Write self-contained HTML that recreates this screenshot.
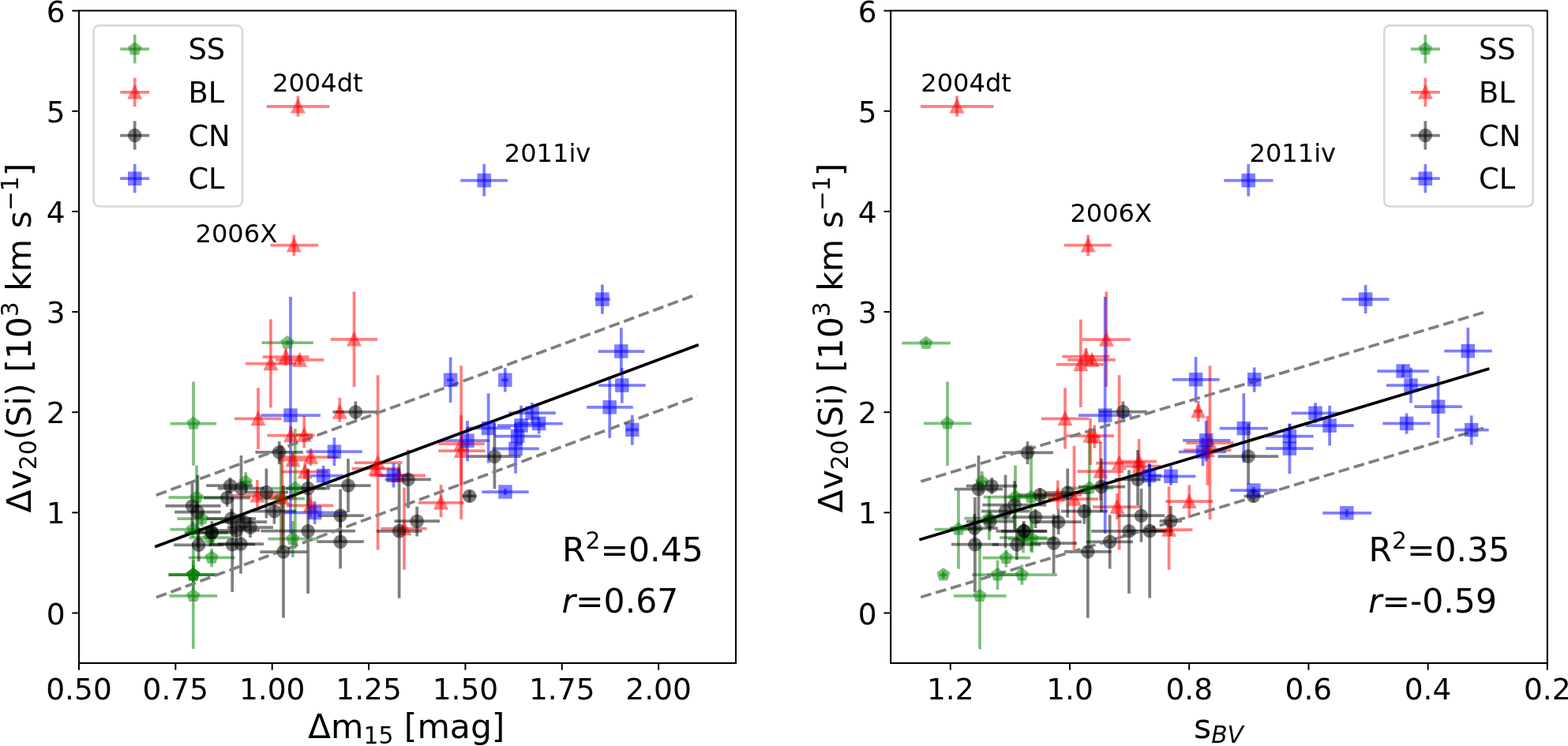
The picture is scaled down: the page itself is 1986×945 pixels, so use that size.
<!DOCTYPE html><html><head><meta charset="utf-8"><style>
html,body{margin:0;padding:0;background:#fff;overflow:hidden}
svg{display:block}
text{font-family:'DejaVu Sans', 'Liberation Sans', sans-serif;fill:#000}
.tk{font-size:37.5px}.lg{font-size:36.8px}.an{font-size:32.1px}.lb{font-size:42.5px}.st{font-size:42.5px}
</style></head><body>
<svg width="1986" height="945" viewBox="0 0 1986 945">
<rect width="1986" height="945" fill="#fff"/>
<g>
<line x1="215.5" y1="536.5" x2="274.1" y2="536.5" stroke="#008000" stroke-width="3.75" stroke-opacity="0.5"/>
<line x1="245" y1="483.5" x2="245" y2="589.7" stroke="#008000" stroke-width="3.75" stroke-opacity="0.5"/>
<line x1="331.4" y1="434.1" x2="396.8" y2="434.1" stroke="#008000" stroke-width="3.75" stroke-opacity="0.5"/>
<line x1="364" y1="431" x2="364" y2="437" stroke="#008000" stroke-width="3.75" stroke-opacity="0.5"/>
<line x1="213.5" y1="630.1" x2="284.5" y2="630.1" stroke="#008000" stroke-width="3.75" stroke-opacity="0.5"/>
<line x1="249" y1="589.7" x2="249" y2="670" stroke="#008000" stroke-width="3.75" stroke-opacity="0.5"/>
<line x1="224.3" y1="657" x2="286" y2="657" stroke="#008000" stroke-width="3.75" stroke-opacity="0.5"/>
<line x1="255.5" y1="647" x2="255.5" y2="667" stroke="#008000" stroke-width="3.75" stroke-opacity="0.5"/>
<line x1="215.3" y1="670.5" x2="273.3" y2="670.5" stroke="#008000" stroke-width="3.75" stroke-opacity="0.5"/>
<line x1="244.3" y1="660" x2="244.3" y2="681" stroke="#008000" stroke-width="3.75" stroke-opacity="0.5"/>
<line x1="239.5" y1="681" x2="291.6" y2="681" stroke="#008000" stroke-width="3.75" stroke-opacity="0.5"/>
<line x1="266" y1="670" x2="266" y2="692" stroke="#008000" stroke-width="3.75" stroke-opacity="0.5"/>
<line x1="239" y1="706.4" x2="297.5" y2="706.4" stroke="#008000" stroke-width="3.75" stroke-opacity="0.5"/>
<line x1="268.1" y1="695" x2="268.1" y2="718.3" stroke="#008000" stroke-width="3.75" stroke-opacity="0.5"/>
<line x1="213.6" y1="728.1" x2="275.1" y2="728.1" stroke="#008000" stroke-width="3.75" stroke-opacity="0.5"/>
<line x1="244.8" y1="723" x2="244.8" y2="733" stroke="#008000" stroke-width="3.75" stroke-opacity="0.5"/>
<line x1="213.6" y1="728.1" x2="275.1" y2="728.1" stroke="#008000" stroke-width="3.75" stroke-opacity="0.5"/>
<line x1="244.8" y1="709.8" x2="244.8" y2="747.1" stroke="#008000" stroke-width="3.75" stroke-opacity="0.5"/>
<line x1="213.6" y1="728.1" x2="275.1" y2="728.1" stroke="#008000" stroke-width="3.75" stroke-opacity="0.5"/>
<line x1="244.8" y1="715.4" x2="244.8" y2="740.8" stroke="#008000" stroke-width="3.75" stroke-opacity="0.5"/>
<line x1="326" y1="631.5" x2="386" y2="631.5" stroke="#008000" stroke-width="3.75" stroke-opacity="0.5"/>
<line x1="355.9" y1="563.6" x2="355.9" y2="698.5" stroke="#008000" stroke-width="3.75" stroke-opacity="0.5"/>
<line x1="214.4" y1="754.8" x2="275.1" y2="754.8" stroke="#008000" stroke-width="3.75" stroke-opacity="0.5"/>
<line x1="244.8" y1="687.6" x2="244.8" y2="822" stroke="#008000" stroke-width="3.75" stroke-opacity="0.5"/>
<line x1="305" y1="610.6" x2="318" y2="610.6" stroke="#008000" stroke-width="3.75" stroke-opacity="0.5"/>
<line x1="311.3" y1="598.1" x2="311.3" y2="623" stroke="#008000" stroke-width="3.75" stroke-opacity="0.5"/>
<line x1="343.8" y1="618.5" x2="412.2" y2="618.5" stroke="#008000" stroke-width="3.75" stroke-opacity="0.5"/>
<line x1="373.8" y1="543" x2="373.8" y2="695" stroke="#008000" stroke-width="3.75" stroke-opacity="0.5"/>
<line x1="339.4" y1="682.6" x2="402.3" y2="682.6" stroke="#008000" stroke-width="3.75" stroke-opacity="0.5"/>
<line x1="370.8" y1="660.1" x2="370.8" y2="706" stroke="#008000" stroke-width="3.75" stroke-opacity="0.5"/>
<line x1="337.7" y1="134.8" x2="417.3" y2="134.8" stroke="#ff0000" stroke-width="3.75" stroke-opacity="0.5"/>
<line x1="377.4" y1="121.5" x2="377.4" y2="147.7" stroke="#ff0000" stroke-width="3.75" stroke-opacity="0.5"/>
<line x1="342.4" y1="310.7" x2="402.8" y2="310.7" stroke="#ff0000" stroke-width="3.75" stroke-opacity="0.5"/>
<line x1="372.3" y1="297.5" x2="372.3" y2="324" stroke="#ff0000" stroke-width="3.75" stroke-opacity="0.5"/>
<line x1="297" y1="530.4" x2="356.6" y2="530.4" stroke="#ff0000" stroke-width="3.75" stroke-opacity="0.5"/>
<line x1="327" y1="491.3" x2="327" y2="569.1" stroke="#ff0000" stroke-width="3.75" stroke-opacity="0.5"/>
<line x1="311" y1="460.5" x2="375" y2="460.5" stroke="#ff0000" stroke-width="3.75" stroke-opacity="0.5"/>
<line x1="342.9" y1="404.4" x2="342.9" y2="516.5" stroke="#ff0000" stroke-width="3.75" stroke-opacity="0.5"/>
<line x1="332.7" y1="452" x2="391.5" y2="452" stroke="#ff0000" stroke-width="3.75" stroke-opacity="0.5"/>
<line x1="362" y1="441" x2="362" y2="463" stroke="#ff0000" stroke-width="3.75" stroke-opacity="0.5"/>
<line x1="349.2" y1="455.9" x2="410" y2="455.9" stroke="#ff0000" stroke-width="3.75" stroke-opacity="0.5"/>
<line x1="379.5" y1="450" x2="379.5" y2="462" stroke="#ff0000" stroke-width="3.75" stroke-opacity="0.5"/>
<line x1="418.6" y1="429.8" x2="477.9" y2="429.8" stroke="#ff0000" stroke-width="3.75" stroke-opacity="0.5"/>
<line x1="448.5" y1="369.5" x2="448.5" y2="490.2" stroke="#ff0000" stroke-width="3.75" stroke-opacity="0.5"/>
<line x1="425" y1="521.9" x2="436" y2="521.9" stroke="#ff0000" stroke-width="3.75" stroke-opacity="0.5"/>
<line x1="430.3" y1="503.9" x2="430.3" y2="534.6" stroke="#ff0000" stroke-width="3.75" stroke-opacity="0.5"/>
<line x1="338.5" y1="551.6" x2="398.4" y2="551.6" stroke="#ff0000" stroke-width="3.75" stroke-opacity="0.5"/>
<line x1="368.4" y1="540" x2="368.4" y2="563" stroke="#ff0000" stroke-width="3.75" stroke-opacity="0.5"/>
<line x1="375" y1="550.9" x2="396" y2="550.9" stroke="#ff0000" stroke-width="3.75" stroke-opacity="0.5"/>
<line x1="385.3" y1="526.8" x2="385.3" y2="567.4" stroke="#ff0000" stroke-width="3.75" stroke-opacity="0.5"/>
<line x1="359" y1="579.1" x2="428" y2="579.1" stroke="#ff0000" stroke-width="3.75" stroke-opacity="0.5"/>
<line x1="393.6" y1="568" x2="393.6" y2="590" stroke="#ff0000" stroke-width="3.75" stroke-opacity="0.5"/>
<line x1="352" y1="582.6" x2="390" y2="582.6" stroke="#ff0000" stroke-width="3.75" stroke-opacity="0.5"/>
<line x1="370.9" y1="574" x2="370.9" y2="591" stroke="#ff0000" stroke-width="3.75" stroke-opacity="0.5"/>
<line x1="356.4" y1="597.5" x2="415.6" y2="597.5" stroke="#ff0000" stroke-width="3.75" stroke-opacity="0.5"/>
<line x1="386.1" y1="588" x2="386.1" y2="607" stroke="#ff0000" stroke-width="3.75" stroke-opacity="0.5"/>
<line x1="296" y1="627.8" x2="357" y2="627.8" stroke="#ff0000" stroke-width="3.75" stroke-opacity="0.5"/>
<line x1="325.9" y1="608" x2="325.9" y2="642.2" stroke="#ff0000" stroke-width="3.75" stroke-opacity="0.5"/>
<line x1="340" y1="630.5" x2="375" y2="630.5" stroke="#ff0000" stroke-width="3.75" stroke-opacity="0.5"/>
<line x1="357.5" y1="564.7" x2="357.5" y2="696" stroke="#ff0000" stroke-width="3.75" stroke-opacity="0.5"/>
<line x1="362.7" y1="640.4" x2="422.1" y2="640.4" stroke="#ff0000" stroke-width="3.75" stroke-opacity="0.5"/>
<line x1="393.3" y1="625" x2="393.3" y2="656" stroke="#ff0000" stroke-width="3.75" stroke-opacity="0.5"/>
<line x1="448.9" y1="586.1" x2="509.6" y2="586.1" stroke="#ff0000" stroke-width="3.75" stroke-opacity="0.5"/>
<line x1="478.6" y1="475.3" x2="478.6" y2="696.5" stroke="#ff0000" stroke-width="3.75" stroke-opacity="0.5"/>
<line x1="445.4" y1="593.7" x2="507" y2="593.7" stroke="#ff0000" stroke-width="3.75" stroke-opacity="0.5"/>
<line x1="476" y1="585" x2="476" y2="602" stroke="#ff0000" stroke-width="3.75" stroke-opacity="0.5"/>
<line x1="468.8" y1="602.3" x2="538.9" y2="602.3" stroke="#ff0000" stroke-width="3.75" stroke-opacity="0.5"/>
<line x1="504.7" y1="595" x2="504.7" y2="610" stroke="#ff0000" stroke-width="3.75" stroke-opacity="0.5"/>
<line x1="482.3" y1="669.6" x2="540.7" y2="669.6" stroke="#ff0000" stroke-width="3.75" stroke-opacity="0.5"/>
<line x1="512" y1="617.5" x2="512" y2="721.7" stroke="#ff0000" stroke-width="3.75" stroke-opacity="0.5"/>
<line x1="529.9" y1="636.8" x2="587.5" y2="636.8" stroke="#ff0000" stroke-width="3.75" stroke-opacity="0.5"/>
<line x1="558.5" y1="614" x2="558.5" y2="655.2" stroke="#ff0000" stroke-width="3.75" stroke-opacity="0.5"/>
<line x1="555.3" y1="562.2" x2="613.7" y2="562.2" stroke="#ff0000" stroke-width="3.75" stroke-opacity="0.5"/>
<line x1="584.1" y1="463.3" x2="584.1" y2="658" stroke="#ff0000" stroke-width="3.75" stroke-opacity="0.5"/>
<line x1="555.3" y1="571.2" x2="614.6" y2="571.2" stroke="#ff0000" stroke-width="3.75" stroke-opacity="0.5"/>
<line x1="584.1" y1="526" x2="584.1" y2="615" stroke="#ff0000" stroke-width="3.75" stroke-opacity="0.5"/>
<line x1="421.4" y1="521.9" x2="477.9" y2="521.9" stroke="#000000" stroke-width="3.75" stroke-opacity="0.5"/>
<line x1="450.4" y1="508.5" x2="450.4" y2="535" stroke="#000000" stroke-width="3.75" stroke-opacity="0.5"/>
<line x1="323.4" y1="572.9" x2="383.9" y2="572.9" stroke="#000000" stroke-width="3.75" stroke-opacity="0.5"/>
<line x1="353.7" y1="559.2" x2="353.7" y2="588.1" stroke="#000000" stroke-width="3.75" stroke-opacity="0.5"/>
<line x1="413.1" y1="615" x2="469.7" y2="615" stroke="#000000" stroke-width="3.75" stroke-opacity="0.5"/>
<line x1="441" y1="581" x2="441" y2="649" stroke="#000000" stroke-width="3.75" stroke-opacity="0.5"/>
<line x1="362" y1="618.5" x2="418" y2="618.5" stroke="#000000" stroke-width="3.75" stroke-opacity="0.5"/>
<line x1="390.1" y1="593.6" x2="390.1" y2="640" stroke="#000000" stroke-width="3.75" stroke-opacity="0.5"/>
<line x1="310" y1="623.5" x2="365" y2="623.5" stroke="#000000" stroke-width="3.75" stroke-opacity="0.5"/>
<line x1="337.4" y1="593.6" x2="337.4" y2="656.5" stroke="#000000" stroke-width="3.75" stroke-opacity="0.5"/>
<line x1="276" y1="618.5" x2="335" y2="618.5" stroke="#000000" stroke-width="3.75" stroke-opacity="0.5"/>
<line x1="305.5" y1="577" x2="305.5" y2="660" stroke="#000000" stroke-width="3.75" stroke-opacity="0.5"/>
<line x1="261.2" y1="615.2" x2="320" y2="615.2" stroke="#000000" stroke-width="3.75" stroke-opacity="0.5"/>
<line x1="291.5" y1="605" x2="291.5" y2="625" stroke="#000000" stroke-width="3.75" stroke-opacity="0.5"/>
<line x1="258" y1="630.5" x2="317" y2="630.5" stroke="#000000" stroke-width="3.75" stroke-opacity="0.5"/>
<line x1="287.7" y1="622" x2="287.7" y2="641.8" stroke="#000000" stroke-width="3.75" stroke-opacity="0.5"/>
<line x1="209.5" y1="640.9" x2="279.6" y2="640.9" stroke="#000000" stroke-width="3.75" stroke-opacity="0.5"/>
<line x1="243.5" y1="609.4" x2="243.5" y2="672.4" stroke="#000000" stroke-width="3.75" stroke-opacity="0.5"/>
<line x1="221.1" y1="648.6" x2="279.6" y2="648.6" stroke="#000000" stroke-width="3.75" stroke-opacity="0.5"/>
<line x1="250.4" y1="601.7" x2="250.4" y2="694.5" stroke="#000000" stroke-width="3.75" stroke-opacity="0.5"/>
<line x1="233.8" y1="674.5" x2="289.1" y2="674.5" stroke="#000000" stroke-width="3.75" stroke-opacity="0.5"/>
<line x1="268.3" y1="660" x2="268.3" y2="690" stroke="#000000" stroke-width="3.75" stroke-opacity="0.5"/>
<line x1="240" y1="674.5" x2="300" y2="674.5" stroke="#000000" stroke-width="3.75" stroke-opacity="0.5"/>
<line x1="268.3" y1="664" x2="268.3" y2="686" stroke="#000000" stroke-width="3.75" stroke-opacity="0.5"/>
<line x1="220.2" y1="690.3" x2="283" y2="690.3" stroke="#000000" stroke-width="3.75" stroke-opacity="0.5"/>
<line x1="251.6" y1="669" x2="251.6" y2="711.3" stroke="#000000" stroke-width="3.75" stroke-opacity="0.5"/>
<line x1="262" y1="657" x2="324" y2="657" stroke="#000000" stroke-width="3.75" stroke-opacity="0.5"/>
<line x1="293" y1="645" x2="293" y2="669" stroke="#000000" stroke-width="3.75" stroke-opacity="0.5"/>
<line x1="270" y1="671.9" x2="329" y2="671.9" stroke="#000000" stroke-width="3.75" stroke-opacity="0.5"/>
<line x1="299.3" y1="660" x2="299.3" y2="684" stroke="#000000" stroke-width="3.75" stroke-opacity="0.5"/>
<line x1="288" y1="668.1" x2="346" y2="668.1" stroke="#000000" stroke-width="3.75" stroke-opacity="0.5"/>
<line x1="317" y1="655" x2="317" y2="681" stroke="#000000" stroke-width="3.75" stroke-opacity="0.5"/>
<line x1="280" y1="661" x2="338" y2="661" stroke="#000000" stroke-width="3.75" stroke-opacity="0.5"/>
<line x1="308.8" y1="650" x2="308.8" y2="672" stroke="#000000" stroke-width="3.75" stroke-opacity="0.5"/>
<line x1="265" y1="689.7" x2="323" y2="689.7" stroke="#000000" stroke-width="3.75" stroke-opacity="0.5"/>
<line x1="294.2" y1="630" x2="294.2" y2="749.9" stroke="#000000" stroke-width="3.75" stroke-opacity="0.5"/>
<line x1="276" y1="689.1" x2="334" y2="689.1" stroke="#000000" stroke-width="3.75" stroke-opacity="0.5"/>
<line x1="305" y1="651.5" x2="305" y2="726.6" stroke="#000000" stroke-width="3.75" stroke-opacity="0.5"/>
<line x1="320" y1="647.6" x2="375" y2="647.6" stroke="#000000" stroke-width="3.75" stroke-opacity="0.5"/>
<line x1="347.4" y1="638.6" x2="347.4" y2="663.7" stroke="#000000" stroke-width="3.75" stroke-opacity="0.5"/>
<line x1="402.3" y1="653" x2="460.8" y2="653" stroke="#000000" stroke-width="3.75" stroke-opacity="0.5"/>
<line x1="431.1" y1="619.7" x2="431.1" y2="686" stroke="#000000" stroke-width="3.75" stroke-opacity="0.5"/>
<line x1="401.4" y1="686.2" x2="460.8" y2="686.2" stroke="#000000" stroke-width="3.75" stroke-opacity="0.5"/>
<line x1="431.1" y1="652" x2="431.1" y2="720.3" stroke="#000000" stroke-width="3.75" stroke-opacity="0.5"/>
<line x1="330.4" y1="672.7" x2="450" y2="672.7" stroke="#000000" stroke-width="3.75" stroke-opacity="0.5"/>
<line x1="390.1" y1="595.4" x2="390.1" y2="751.9" stroke="#000000" stroke-width="3.75" stroke-opacity="0.5"/>
<line x1="329.3" y1="699" x2="389.1" y2="699" stroke="#000000" stroke-width="3.75" stroke-opacity="0.5"/>
<line x1="359" y1="615" x2="359" y2="782.7" stroke="#000000" stroke-width="3.75" stroke-opacity="0.5"/>
<line x1="487.7" y1="607.3" x2="546.1" y2="607.3" stroke="#000000" stroke-width="3.75" stroke-opacity="0.5"/>
<line x1="517" y1="569.9" x2="517" y2="643.7" stroke="#000000" stroke-width="3.75" stroke-opacity="0.5"/>
<line x1="476.9" y1="672.8" x2="534.4" y2="672.8" stroke="#000000" stroke-width="3.75" stroke-opacity="0.5"/>
<line x1="505.6" y1="588" x2="505.6" y2="757.7" stroke="#000000" stroke-width="3.75" stroke-opacity="0.5"/>
<line x1="499.4" y1="660.2" x2="556.9" y2="660.2" stroke="#000000" stroke-width="3.75" stroke-opacity="0.5"/>
<line x1="528.1" y1="641.7" x2="528.1" y2="679.5" stroke="#000000" stroke-width="3.75" stroke-opacity="0.5"/>
<line x1="585.7" y1="628.4" x2="603.7" y2="628.4" stroke="#000000" stroke-width="3.75" stroke-opacity="0.5"/>
<line x1="594.7" y1="621" x2="594.7" y2="636" stroke="#000000" stroke-width="3.75" stroke-opacity="0.5"/>
<line x1="592.5" y1="578.2" x2="659.6" y2="578.2" stroke="#000000" stroke-width="3.75" stroke-opacity="0.5"/>
<line x1="626.4" y1="535.8" x2="626.4" y2="619.4" stroke="#000000" stroke-width="3.75" stroke-opacity="0.5"/>
<line x1="583.3" y1="228.5" x2="642.9" y2="228.5" stroke="#0000ff" stroke-width="3.75" stroke-opacity="0.5"/>
<line x1="613.2" y1="207.9" x2="613.2" y2="248.6" stroke="#0000ff" stroke-width="3.75" stroke-opacity="0.5"/>
<line x1="753.6" y1="379.1" x2="772.6" y2="379.1" stroke="#0000ff" stroke-width="3.75" stroke-opacity="0.5"/>
<line x1="762.9" y1="360.5" x2="762.9" y2="397.7" stroke="#0000ff" stroke-width="3.75" stroke-opacity="0.5"/>
<line x1="757.7" y1="445" x2="816.4" y2="445" stroke="#0000ff" stroke-width="3.75" stroke-opacity="0.5"/>
<line x1="786.8" y1="415.2" x2="786.8" y2="474.8" stroke="#0000ff" stroke-width="3.75" stroke-opacity="0.5"/>
<line x1="758.2" y1="488.1" x2="817.6" y2="488.1" stroke="#0000ff" stroke-width="3.75" stroke-opacity="0.5"/>
<line x1="787.8" y1="466.4" x2="787.8" y2="510.7" stroke="#0000ff" stroke-width="3.75" stroke-opacity="0.5"/>
<line x1="743.1" y1="515.8" x2="801.7" y2="515.8" stroke="#0000ff" stroke-width="3.75" stroke-opacity="0.5"/>
<line x1="772.2" y1="476.9" x2="772.2" y2="554.9" stroke="#0000ff" stroke-width="3.75" stroke-opacity="0.5"/>
<line x1="792.8" y1="544.4" x2="808.8" y2="544.4" stroke="#0000ff" stroke-width="3.75" stroke-opacity="0.5"/>
<line x1="800.8" y1="525.8" x2="800.8" y2="563.7" stroke="#0000ff" stroke-width="3.75" stroke-opacity="0.5"/>
<line x1="566" y1="481.3" x2="575" y2="481.3" stroke="#0000ff" stroke-width="3.75" stroke-opacity="0.5"/>
<line x1="570.6" y1="452.5" x2="570.6" y2="510" stroke="#0000ff" stroke-width="3.75" stroke-opacity="0.5"/>
<line x1="635" y1="481.3" x2="644" y2="481.3" stroke="#0000ff" stroke-width="3.75" stroke-opacity="0.5"/>
<line x1="639.8" y1="466" x2="639.8" y2="496.5" stroke="#0000ff" stroke-width="3.75" stroke-opacity="0.5"/>
<line x1="330.4" y1="526.1" x2="405.9" y2="526.1" stroke="#0000ff" stroke-width="3.75" stroke-opacity="0.5"/>
<line x1="368" y1="375.9" x2="368" y2="676" stroke="#0000ff" stroke-width="3.75" stroke-opacity="0.5"/>
<line x1="388" y1="572.2" x2="458.8" y2="572.2" stroke="#0000ff" stroke-width="3.75" stroke-opacity="0.5"/>
<line x1="423.4" y1="554.4" x2="423.4" y2="590.1" stroke="#0000ff" stroke-width="3.75" stroke-opacity="0.5"/>
<line x1="393.3" y1="602.6" x2="434.7" y2="602.6" stroke="#0000ff" stroke-width="3.75" stroke-opacity="0.5"/>
<line x1="409.6" y1="590" x2="409.6" y2="615" stroke="#0000ff" stroke-width="3.75" stroke-opacity="0.5"/>
<line x1="359.1" y1="649.4" x2="439.2" y2="649.4" stroke="#0000ff" stroke-width="3.75" stroke-opacity="0.5"/>
<line x1="398.7" y1="635" x2="398.7" y2="664" stroke="#0000ff" stroke-width="3.75" stroke-opacity="0.5"/>
<line x1="480" y1="602.3" x2="517" y2="602.3" stroke="#0000ff" stroke-width="3.75" stroke-opacity="0.5"/>
<line x1="498.5" y1="587" x2="498.5" y2="617.6" stroke="#0000ff" stroke-width="3.75" stroke-opacity="0.5"/>
<line x1="558.7" y1="558.2" x2="619.9" y2="558.2" stroke="#0000ff" stroke-width="3.75" stroke-opacity="0.5"/>
<line x1="592" y1="533" x2="592" y2="584.3" stroke="#0000ff" stroke-width="3.75" stroke-opacity="0.5"/>
<line x1="590.4" y1="542.4" x2="646.8" y2="542.4" stroke="#0000ff" stroke-width="3.75" stroke-opacity="0.5"/>
<line x1="618.6" y1="498.3" x2="618.6" y2="586.5" stroke="#0000ff" stroke-width="3.75" stroke-opacity="0.5"/>
<line x1="644.3" y1="523.2" x2="703.8" y2="523.2" stroke="#0000ff" stroke-width="3.75" stroke-opacity="0.5"/>
<line x1="674" y1="510" x2="674" y2="536" stroke="#0000ff" stroke-width="3.75" stroke-opacity="0.5"/>
<line x1="630" y1="539" x2="690" y2="539" stroke="#0000ff" stroke-width="3.75" stroke-opacity="0.5"/>
<line x1="660" y1="513.8" x2="660" y2="564" stroke="#0000ff" stroke-width="3.75" stroke-opacity="0.5"/>
<line x1="652" y1="536.5" x2="712.9" y2="536.5" stroke="#0000ff" stroke-width="3.75" stroke-opacity="0.5"/>
<line x1="682.6" y1="528.6" x2="682.6" y2="549.5" stroke="#0000ff" stroke-width="3.75" stroke-opacity="0.5"/>
<line x1="626.7" y1="552.5" x2="684.8" y2="552.5" stroke="#0000ff" stroke-width="3.75" stroke-opacity="0.5"/>
<line x1="655.6" y1="540" x2="655.6" y2="565" stroke="#0000ff" stroke-width="3.75" stroke-opacity="0.5"/>
<line x1="623.3" y1="568.4" x2="682.9" y2="568.4" stroke="#0000ff" stroke-width="3.75" stroke-opacity="0.5"/>
<line x1="653" y1="536.6" x2="653" y2="599.6" stroke="#0000ff" stroke-width="3.75" stroke-opacity="0.5"/>
<line x1="610.3" y1="623" x2="669.7" y2="623" stroke="#0000ff" stroke-width="3.75" stroke-opacity="0.5"/>
<line x1="640" y1="619" x2="640" y2="627" stroke="#0000ff" stroke-width="3.75" stroke-opacity="0.5"/>
<line x1="197.9" y1="627.2" x2="883" y2="372.7" stroke="#808080" stroke-width="3.75" stroke-dasharray="13.79 5.955"/>
<line x1="197.9" y1="756.8" x2="883" y2="502.3" stroke="#808080" stroke-width="3.75" stroke-dasharray="13.79 5.955"/>
<line x1="197.9" y1="692" x2="883" y2="437.5" stroke="#000" stroke-width="3.75" stroke-linecap="square"/>
<path d="M245,529 L237.87,534.18 L240.59,542.57 L249.41,542.57 L252.13,534.18 Z" fill="#008000" stroke="#008000" stroke-width="2.5" opacity="0.5"/>
<path d="M364,426.6 L356.87,431.78 L359.59,440.17 L368.41,440.17 L371.13,431.78 Z" fill="#008000" stroke="#008000" stroke-width="2.5" opacity="0.5"/>
<path d="M249,622.6 L241.87,627.78 L244.59,636.17 L253.41,636.17 L256.13,627.78 Z" fill="#008000" stroke="#008000" stroke-width="2.5" opacity="0.5"/>
<path d="M255.5,649.5 L248.37,654.68 L251.09,663.07 L259.91,663.07 L262.63,654.68 Z" fill="#008000" stroke="#008000" stroke-width="2.5" opacity="0.5"/>
<path d="M244.3,663 L237.17,668.18 L239.89,676.57 L248.71,676.57 L251.43,668.18 Z" fill="#008000" stroke="#008000" stroke-width="2.5" opacity="0.5"/>
<path d="M266,673.5 L258.87,678.68 L261.59,687.07 L270.41,687.07 L273.13,678.68 Z" fill="#008000" stroke="#008000" stroke-width="2.5" opacity="0.5"/>
<path d="M268.1,698.9 L260.97,704.08 L263.69,712.47 L272.51,712.47 L275.23,704.08 Z" fill="#008000" stroke="#008000" stroke-width="2.5" opacity="0.5"/>
<path d="M244.8,720.6 L237.67,725.78 L240.39,734.17 L249.21,734.17 L251.93,725.78 Z" fill="#008000" stroke="#008000" stroke-width="2.5" opacity="0.5"/>
<path d="M244.8,720.6 L237.67,725.78 L240.39,734.17 L249.21,734.17 L251.93,725.78 Z" fill="#008000" stroke="#008000" stroke-width="2.5" opacity="0.5"/>
<path d="M244.8,720.6 L237.67,725.78 L240.39,734.17 L249.21,734.17 L251.93,725.78 Z" fill="#008000" stroke="#008000" stroke-width="2.5" opacity="0.5"/>
<path d="M355.9,624 L348.77,629.18 L351.49,637.57 L360.31,637.57 L363.03,629.18 Z" fill="#008000" stroke="#008000" stroke-width="2.5" opacity="0.5"/>
<path d="M244.8,747.3 L237.67,752.48 L240.39,760.87 L249.21,760.87 L251.93,752.48 Z" fill="#008000" stroke="#008000" stroke-width="2.5" opacity="0.5"/>
<path d="M311.3,603.1 L304.17,608.28 L306.89,616.67 L315.71,616.67 L318.43,608.28 Z" fill="#008000" stroke="#008000" stroke-width="2.5" opacity="0.5"/>
<path d="M373.8,611 L366.67,616.18 L369.39,624.57 L378.21,624.57 L380.93,616.18 Z" fill="#008000" stroke="#008000" stroke-width="2.5" opacity="0.5"/>
<path d="M370.8,675.1 L363.67,680.28 L366.39,688.67 L375.21,688.67 L377.93,680.28 Z" fill="#008000" stroke="#008000" stroke-width="2.5" opacity="0.5"/>
<path d="M377.4,127.3 L369.9,142.3 L384.9,142.3 Z" fill="#ff0000" stroke="#ff0000" stroke-width="2.5" opacity="0.5"/>
<path d="M372.3,303.2 L364.8,318.2 L379.8,318.2 Z" fill="#ff0000" stroke="#ff0000" stroke-width="2.5" opacity="0.5"/>
<path d="M327,522.9 L319.5,537.9 L334.5,537.9 Z" fill="#ff0000" stroke="#ff0000" stroke-width="2.5" opacity="0.5"/>
<path d="M342.9,453 L335.4,468 L350.4,468 Z" fill="#ff0000" stroke="#ff0000" stroke-width="2.5" opacity="0.5"/>
<path d="M362,444.5 L354.5,459.5 L369.5,459.5 Z" fill="#ff0000" stroke="#ff0000" stroke-width="2.5" opacity="0.5"/>
<path d="M379.5,448.4 L372,463.4 L387,463.4 Z" fill="#ff0000" stroke="#ff0000" stroke-width="2.5" opacity="0.5"/>
<path d="M448.5,422.3 L441,437.3 L456,437.3 Z" fill="#ff0000" stroke="#ff0000" stroke-width="2.5" opacity="0.5"/>
<path d="M430.3,514.4 L422.8,529.4 L437.8,529.4 Z" fill="#ff0000" stroke="#ff0000" stroke-width="2.5" opacity="0.5"/>
<path d="M368.4,544.1 L360.9,559.1 L375.9,559.1 Z" fill="#ff0000" stroke="#ff0000" stroke-width="2.5" opacity="0.5"/>
<path d="M385.3,543.4 L377.8,558.4 L392.8,558.4 Z" fill="#ff0000" stroke="#ff0000" stroke-width="2.5" opacity="0.5"/>
<path d="M393.6,571.6 L386.1,586.6 L401.1,586.6 Z" fill="#ff0000" stroke="#ff0000" stroke-width="2.5" opacity="0.5"/>
<path d="M370.9,575.1 L363.4,590.1 L378.4,590.1 Z" fill="#ff0000" stroke="#ff0000" stroke-width="2.5" opacity="0.5"/>
<path d="M386.1,590 L378.6,605 L393.6,605 Z" fill="#ff0000" stroke="#ff0000" stroke-width="2.5" opacity="0.5"/>
<path d="M325.9,620.3 L318.4,635.3 L333.4,635.3 Z" fill="#ff0000" stroke="#ff0000" stroke-width="2.5" opacity="0.5"/>
<path d="M357.5,623 L350,638 L365,638 Z" fill="#ff0000" stroke="#ff0000" stroke-width="2.5" opacity="0.5"/>
<path d="M393.3,632.9 L385.8,647.9 L400.8,647.9 Z" fill="#ff0000" stroke="#ff0000" stroke-width="2.5" opacity="0.5"/>
<path d="M478.6,578.6 L471.1,593.6 L486.1,593.6 Z" fill="#ff0000" stroke="#ff0000" stroke-width="2.5" opacity="0.5"/>
<path d="M476,586.2 L468.5,601.2 L483.5,601.2 Z" fill="#ff0000" stroke="#ff0000" stroke-width="2.5" opacity="0.5"/>
<path d="M504.7,594.8 L497.2,609.8 L512.2,609.8 Z" fill="#ff0000" stroke="#ff0000" stroke-width="2.5" opacity="0.5"/>
<path d="M512,662.1 L504.5,677.1 L519.5,677.1 Z" fill="#ff0000" stroke="#ff0000" stroke-width="2.5" opacity="0.5"/>
<path d="M558.5,629.3 L551,644.3 L566,644.3 Z" fill="#ff0000" stroke="#ff0000" stroke-width="2.5" opacity="0.5"/>
<path d="M584.1,554.7 L576.6,569.7 L591.6,569.7 Z" fill="#ff0000" stroke="#ff0000" stroke-width="2.5" opacity="0.5"/>
<path d="M584.1,563.7 L576.6,578.7 L591.6,578.7 Z" fill="#ff0000" stroke="#ff0000" stroke-width="2.5" opacity="0.5"/>
<circle cx="450.4" cy="521.9" r="7.5" fill="#000000" stroke="#000000" stroke-width="2.5" opacity="0.5"/>
<circle cx="353.7" cy="572.9" r="7.5" fill="#000000" stroke="#000000" stroke-width="2.5" opacity="0.5"/>
<circle cx="441" cy="615" r="7.5" fill="#000000" stroke="#000000" stroke-width="2.5" opacity="0.5"/>
<circle cx="390.1" cy="618.5" r="7.5" fill="#000000" stroke="#000000" stroke-width="2.5" opacity="0.5"/>
<circle cx="337.4" cy="623.5" r="7.5" fill="#000000" stroke="#000000" stroke-width="2.5" opacity="0.5"/>
<circle cx="305.5" cy="618.5" r="7.5" fill="#000000" stroke="#000000" stroke-width="2.5" opacity="0.5"/>
<circle cx="291.5" cy="615.2" r="7.5" fill="#000000" stroke="#000000" stroke-width="2.5" opacity="0.5"/>
<circle cx="287.7" cy="630.5" r="7.5" fill="#000000" stroke="#000000" stroke-width="2.5" opacity="0.5"/>
<circle cx="243.5" cy="640.9" r="7.5" fill="#000000" stroke="#000000" stroke-width="2.5" opacity="0.5"/>
<circle cx="250.4" cy="648.6" r="7.5" fill="#000000" stroke="#000000" stroke-width="2.5" opacity="0.5"/>
<circle cx="268.3" cy="674.5" r="7.5" fill="#000000" stroke="#000000" stroke-width="2.5" opacity="0.5"/>
<circle cx="268.3" cy="674.5" r="7.5" fill="#000000" stroke="#000000" stroke-width="2.5" opacity="0.5"/>
<circle cx="251.6" cy="690.3" r="7.5" fill="#000000" stroke="#000000" stroke-width="2.5" opacity="0.5"/>
<circle cx="293" cy="657" r="7.5" fill="#000000" stroke="#000000" stroke-width="2.5" opacity="0.5"/>
<circle cx="299.3" cy="671.9" r="7.5" fill="#000000" stroke="#000000" stroke-width="2.5" opacity="0.5"/>
<circle cx="317" cy="668.1" r="7.5" fill="#000000" stroke="#000000" stroke-width="2.5" opacity="0.5"/>
<circle cx="308.8" cy="661" r="7.5" fill="#000000" stroke="#000000" stroke-width="2.5" opacity="0.5"/>
<circle cx="294.2" cy="689.7" r="7.5" fill="#000000" stroke="#000000" stroke-width="2.5" opacity="0.5"/>
<circle cx="305" cy="689.1" r="7.5" fill="#000000" stroke="#000000" stroke-width="2.5" opacity="0.5"/>
<circle cx="347.4" cy="647.6" r="7.5" fill="#000000" stroke="#000000" stroke-width="2.5" opacity="0.5"/>
<circle cx="431.1" cy="653" r="7.5" fill="#000000" stroke="#000000" stroke-width="2.5" opacity="0.5"/>
<circle cx="431.1" cy="686.2" r="7.5" fill="#000000" stroke="#000000" stroke-width="2.5" opacity="0.5"/>
<circle cx="390.1" cy="672.7" r="7.5" fill="#000000" stroke="#000000" stroke-width="2.5" opacity="0.5"/>
<circle cx="359" cy="699" r="7.5" fill="#000000" stroke="#000000" stroke-width="2.5" opacity="0.5"/>
<circle cx="517" cy="607.3" r="7.5" fill="#000000" stroke="#000000" stroke-width="2.5" opacity="0.5"/>
<circle cx="505.6" cy="672.8" r="7.5" fill="#000000" stroke="#000000" stroke-width="2.5" opacity="0.5"/>
<circle cx="528.1" cy="660.2" r="7.5" fill="#000000" stroke="#000000" stroke-width="2.5" opacity="0.5"/>
<circle cx="594.7" cy="628.4" r="7.5" fill="#000000" stroke="#000000" stroke-width="2.5" opacity="0.5"/>
<circle cx="626.4" cy="578.2" r="7.5" fill="#000000" stroke="#000000" stroke-width="2.5" opacity="0.5"/>
<rect x="605.7" y="221" width="15" height="15" fill="#0000ff" stroke="#0000ff" stroke-width="2.5" stroke-linejoin="miter" opacity="0.5"/>
<rect x="755.4" y="371.6" width="15" height="15" fill="#0000ff" stroke="#0000ff" stroke-width="2.5" stroke-linejoin="miter" opacity="0.5"/>
<rect x="779.3" y="437.5" width="15" height="15" fill="#0000ff" stroke="#0000ff" stroke-width="2.5" stroke-linejoin="miter" opacity="0.5"/>
<rect x="780.3" y="480.6" width="15" height="15" fill="#0000ff" stroke="#0000ff" stroke-width="2.5" stroke-linejoin="miter" opacity="0.5"/>
<rect x="764.7" y="508.3" width="15" height="15" fill="#0000ff" stroke="#0000ff" stroke-width="2.5" stroke-linejoin="miter" opacity="0.5"/>
<rect x="793.3" y="536.9" width="15" height="15" fill="#0000ff" stroke="#0000ff" stroke-width="2.5" stroke-linejoin="miter" opacity="0.5"/>
<rect x="563.1" y="473.8" width="15" height="15" fill="#0000ff" stroke="#0000ff" stroke-width="2.5" stroke-linejoin="miter" opacity="0.5"/>
<rect x="632.3" y="473.8" width="15" height="15" fill="#0000ff" stroke="#0000ff" stroke-width="2.5" stroke-linejoin="miter" opacity="0.5"/>
<rect x="360.5" y="518.6" width="15" height="15" fill="#0000ff" stroke="#0000ff" stroke-width="2.5" stroke-linejoin="miter" opacity="0.5"/>
<rect x="415.9" y="564.7" width="15" height="15" fill="#0000ff" stroke="#0000ff" stroke-width="2.5" stroke-linejoin="miter" opacity="0.5"/>
<rect x="402.1" y="595.1" width="15" height="15" fill="#0000ff" stroke="#0000ff" stroke-width="2.5" stroke-linejoin="miter" opacity="0.5"/>
<rect x="391.2" y="641.9" width="15" height="15" fill="#0000ff" stroke="#0000ff" stroke-width="2.5" stroke-linejoin="miter" opacity="0.5"/>
<rect x="491" y="594.8" width="15" height="15" fill="#0000ff" stroke="#0000ff" stroke-width="2.5" stroke-linejoin="miter" opacity="0.5"/>
<rect x="584.5" y="550.7" width="15" height="15" fill="#0000ff" stroke="#0000ff" stroke-width="2.5" stroke-linejoin="miter" opacity="0.5"/>
<rect x="611.1" y="534.9" width="15" height="15" fill="#0000ff" stroke="#0000ff" stroke-width="2.5" stroke-linejoin="miter" opacity="0.5"/>
<rect x="666.5" y="515.7" width="15" height="15" fill="#0000ff" stroke="#0000ff" stroke-width="2.5" stroke-linejoin="miter" opacity="0.5"/>
<rect x="652.5" y="531.5" width="15" height="15" fill="#0000ff" stroke="#0000ff" stroke-width="2.5" stroke-linejoin="miter" opacity="0.5"/>
<rect x="675.1" y="529" width="15" height="15" fill="#0000ff" stroke="#0000ff" stroke-width="2.5" stroke-linejoin="miter" opacity="0.5"/>
<rect x="648.1" y="545" width="15" height="15" fill="#0000ff" stroke="#0000ff" stroke-width="2.5" stroke-linejoin="miter" opacity="0.5"/>
<rect x="645.5" y="560.9" width="15" height="15" fill="#0000ff" stroke="#0000ff" stroke-width="2.5" stroke-linejoin="miter" opacity="0.5"/>
<rect x="632.5" y="615.5" width="15" height="15" fill="#0000ff" stroke="#0000ff" stroke-width="2.5" stroke-linejoin="miter" opacity="0.5"/>
<text x="345" y="116.2" class="an">2004dt</text>
<text x="247.5" y="307.2" class="an">2006X</text>
<text x="638.8" y="205.3" class="an">2011iv</text>
<text x="712" y="711" class="st">R<tspan dy="-16" font-size="29.75px">2</tspan><tspan dy="16">=0.45</tspan></text>
<text x="711.5" y="775.5" class="st"><tspan font-style="italic">r</tspan>=0.67</text>
<line x1="91.25" y1="776.5" x2="100" y2="776.5" stroke="#000" stroke-width="2"/>
<text x="82.5" y="790.5" text-anchor="end" class="tk">0</text>
<line x1="91.25" y1="649.35" x2="100" y2="649.35" stroke="#000" stroke-width="2"/>
<text x="82.5" y="663.35" text-anchor="end" class="tk">1</text>
<line x1="91.25" y1="522.2" x2="100" y2="522.2" stroke="#000" stroke-width="2"/>
<text x="82.5" y="536.2" text-anchor="end" class="tk">2</text>
<line x1="91.25" y1="395.05" x2="100" y2="395.05" stroke="#000" stroke-width="2"/>
<text x="82.5" y="409.05" text-anchor="end" class="tk">3</text>
<line x1="91.25" y1="267.9" x2="100" y2="267.9" stroke="#000" stroke-width="2"/>
<text x="82.5" y="281.9" text-anchor="end" class="tk">4</text>
<line x1="91.25" y1="140.75" x2="100" y2="140.75" stroke="#000" stroke-width="2"/>
<text x="82.5" y="154.75" text-anchor="end" class="tk">5</text>
<line x1="91.25" y1="13.6" x2="100" y2="13.6" stroke="#000" stroke-width="2"/>
<text x="82.5" y="27.6" text-anchor="end" class="tk">6</text>
<line x1="100" y1="840" x2="100" y2="848.75" stroke="#000" stroke-width="2"/>
<text x="100" y="886" text-anchor="middle" class="tk">0.50</text>
<line x1="222.35" y1="840" x2="222.35" y2="848.75" stroke="#000" stroke-width="2"/>
<text x="222.35" y="886" text-anchor="middle" class="tk">0.75</text>
<line x1="344.7" y1="840" x2="344.7" y2="848.75" stroke="#000" stroke-width="2"/>
<text x="344.7" y="886" text-anchor="middle" class="tk">1.00</text>
<line x1="467.05" y1="840" x2="467.05" y2="848.75" stroke="#000" stroke-width="2"/>
<text x="467.05" y="886" text-anchor="middle" class="tk">1.25</text>
<line x1="589.4" y1="840" x2="589.4" y2="848.75" stroke="#000" stroke-width="2"/>
<text x="589.4" y="886" text-anchor="middle" class="tk">1.50</text>
<line x1="711.75" y1="840" x2="711.75" y2="848.75" stroke="#000" stroke-width="2"/>
<text x="711.75" y="886" text-anchor="middle" class="tk">1.75</text>
<line x1="834.1" y1="840" x2="834.1" y2="848.75" stroke="#000" stroke-width="2"/>
<text x="834.1" y="886" text-anchor="middle" class="tk">2.00</text>
<rect x="100" y="13.5" width="832" height="826.5" fill="none" stroke="#000" stroke-width="2"/>
<rect x="118.6" y="32.3" width="188.4" height="229.2" rx="7" ry="7" fill="#fff" fill-opacity="0.8" stroke="#cccccc" stroke-opacity="0.8" stroke-width="2.5"/>
<line x1="152.2" y1="62.1" x2="189.2" y2="62.1" stroke="#008000" stroke-width="3.75" stroke-opacity="0.5"/><line x1="170.7" y1="43.9" x2="170.7" y2="80.3" stroke="#008000" stroke-width="3.75" stroke-opacity="0.5"/><path d="M170.7,54.6 L163.57,59.78 L166.29,68.17 L175.11,68.17 L177.83,59.78 Z" fill="#008000" stroke="#008000" stroke-width="2.5" opacity="0.5"/>
<text x="238.4" y="75.3" class="lg">SS</text>
<line x1="152.2" y1="116.8" x2="189.2" y2="116.8" stroke="#ff0000" stroke-width="3.75" stroke-opacity="0.5"/><line x1="170.7" y1="98.6" x2="170.7" y2="135" stroke="#ff0000" stroke-width="3.75" stroke-opacity="0.5"/><path d="M170.7,109.3 L163.2,124.3 L178.2,124.3 Z" fill="#ff0000" stroke="#ff0000" stroke-width="2.5" opacity="0.5"/>
<text x="238.4" y="130" class="lg">BL</text>
<line x1="152.2" y1="171.5" x2="189.2" y2="171.5" stroke="#000000" stroke-width="3.75" stroke-opacity="0.5"/><line x1="170.7" y1="153.3" x2="170.7" y2="189.7" stroke="#000000" stroke-width="3.75" stroke-opacity="0.5"/><circle cx="170.7" cy="171.5" r="7.5" fill="#000000" stroke="#000000" stroke-width="2.5" opacity="0.5"/>
<text x="238.4" y="184.7" class="lg">CN</text>
<line x1="152.2" y1="226.2" x2="189.2" y2="226.2" stroke="#0000ff" stroke-width="3.75" stroke-opacity="0.5"/><line x1="170.7" y1="208" x2="170.7" y2="244.4" stroke="#0000ff" stroke-width="3.75" stroke-opacity="0.5"/><rect x="163.2" y="218.7" width="15" height="15" fill="#0000ff" stroke="#0000ff" stroke-width="2.5" stroke-linejoin="miter" opacity="0.5"/>
<text x="238.4" y="239.4" class="lg">CL</text>
<text x="390" y="935" class="lb">Δm<tspan dy="6.7" font-size="29.75px">15</tspan><tspan dy="-6.7"> [mag]</tspan></text>
<text transform="translate(39,428) rotate(-90)" text-anchor="middle" class="lb">Δv<tspan dy="6.7" font-size="29.75px">20</tspan><tspan dy="-6.7">(Si) [10</tspan><tspan dy="-16.5" font-size="29.75px">3</tspan><tspan dy="16.5"> km s</tspan><tspan dy="-16.5" font-size="29.75px">−1</tspan><tspan dy="16.5">]</tspan></text>
</g>
<g>
<line x1="1169.9" y1="536.3" x2="1230.5" y2="536.3" stroke="#008000" stroke-width="3.75" stroke-opacity="0.5"/>
<line x1="1200" y1="483.7" x2="1200" y2="590" stroke="#008000" stroke-width="3.75" stroke-opacity="0.5"/>
<line x1="1142.3" y1="434.7" x2="1203.8" y2="434.7" stroke="#008000" stroke-width="3.75" stroke-opacity="0.5"/>
<line x1="1173" y1="431" x2="1173" y2="437" stroke="#008000" stroke-width="3.75" stroke-opacity="0.5"/>
<line x1="1245.7" y1="629.5" x2="1325" y2="629.5" stroke="#008000" stroke-width="3.75" stroke-opacity="0.5"/>
<line x1="1286" y1="589.7" x2="1286" y2="670" stroke="#008000" stroke-width="3.75" stroke-opacity="0.5"/>
<line x1="1221.4" y1="656.5" x2="1284" y2="656.5" stroke="#008000" stroke-width="3.75" stroke-opacity="0.5"/>
<line x1="1252.9" y1="628.6" x2="1252.9" y2="684" stroke="#008000" stroke-width="3.75" stroke-opacity="0.5"/>
<line x1="1183.8" y1="670.5" x2="1245" y2="670.5" stroke="#008000" stroke-width="3.75" stroke-opacity="0.5"/>
<line x1="1214" y1="621.3" x2="1214" y2="720.7" stroke="#008000" stroke-width="3.75" stroke-opacity="0.5"/>
<line x1="1266" y1="681" x2="1326.3" y2="681" stroke="#008000" stroke-width="3.75" stroke-opacity="0.5"/>
<line x1="1296" y1="662" x2="1296" y2="700.3" stroke="#008000" stroke-width="3.75" stroke-opacity="0.5"/>
<line x1="1244.4" y1="706.6" x2="1304.8" y2="706.6" stroke="#008000" stroke-width="3.75" stroke-opacity="0.5"/>
<line x1="1274.3" y1="696.3" x2="1274.3" y2="718.6" stroke="#008000" stroke-width="3.75" stroke-opacity="0.5"/>
<line x1="1190" y1="728.1" x2="1200" y2="728.1" stroke="#008000" stroke-width="3.75" stroke-opacity="0.5"/>
<line x1="1194.9" y1="723" x2="1194.9" y2="733" stroke="#008000" stroke-width="3.75" stroke-opacity="0.5"/>
<line x1="1231" y1="728.1" x2="1296" y2="728.1" stroke="#008000" stroke-width="3.75" stroke-opacity="0.5"/>
<line x1="1263.5" y1="709.8" x2="1263.5" y2="747.1" stroke="#008000" stroke-width="3.75" stroke-opacity="0.5"/>
<line x1="1250" y1="728.1" x2="1338.9" y2="728.1" stroke="#008000" stroke-width="3.75" stroke-opacity="0.5"/>
<line x1="1294.4" y1="715.4" x2="1294.4" y2="740.8" stroke="#008000" stroke-width="3.75" stroke-opacity="0.5"/>
<line x1="1207.9" y1="754.8" x2="1274.6" y2="754.8" stroke="#008000" stroke-width="3.75" stroke-opacity="0.5"/>
<line x1="1241" y1="687" x2="1241" y2="822.5" stroke="#008000" stroke-width="3.75" stroke-opacity="0.5"/>
<line x1="1236" y1="610.5" x2="1251" y2="610.5" stroke="#008000" stroke-width="3.75" stroke-opacity="0.5"/>
<line x1="1243.8" y1="597.1" x2="1243.8" y2="624" stroke="#008000" stroke-width="3.75" stroke-opacity="0.5"/>
<line x1="1350" y1="618.3" x2="1410" y2="618.3" stroke="#008000" stroke-width="3.75" stroke-opacity="0.5"/>
<line x1="1379.8" y1="543" x2="1379.8" y2="695" stroke="#008000" stroke-width="3.75" stroke-opacity="0.5"/>
<line x1="1276" y1="629.7" x2="1336" y2="629.7" stroke="#008000" stroke-width="3.75" stroke-opacity="0.5"/>
<line x1="1306" y1="563.6" x2="1306" y2="698.5" stroke="#008000" stroke-width="3.75" stroke-opacity="0.5"/>
<line x1="1277" y1="682.6" x2="1337" y2="682.6" stroke="#008000" stroke-width="3.75" stroke-opacity="0.5"/>
<line x1="1307.1" y1="660.1" x2="1307.1" y2="700.3" stroke="#008000" stroke-width="3.75" stroke-opacity="0.5"/>
<line x1="1165.9" y1="134.8" x2="1258.5" y2="134.8" stroke="#ff0000" stroke-width="3.75" stroke-opacity="0.5"/>
<line x1="1212" y1="121.5" x2="1212" y2="147.7" stroke="#ff0000" stroke-width="3.75" stroke-opacity="0.5"/>
<line x1="1347.7" y1="310.7" x2="1407.7" y2="310.7" stroke="#ff0000" stroke-width="3.75" stroke-opacity="0.5"/>
<line x1="1378.1" y1="297.5" x2="1378.1" y2="324" stroke="#ff0000" stroke-width="3.75" stroke-opacity="0.5"/>
<line x1="1319" y1="530.4" x2="1379" y2="530.4" stroke="#ff0000" stroke-width="3.75" stroke-opacity="0.5"/>
<line x1="1349" y1="491.4" x2="1349" y2="568.6" stroke="#ff0000" stroke-width="3.75" stroke-opacity="0.5"/>
<line x1="1337.8" y1="461.5" x2="1397.9" y2="461.5" stroke="#ff0000" stroke-width="3.75" stroke-opacity="0.5"/>
<line x1="1368.8" y1="404.7" x2="1368.8" y2="516" stroke="#ff0000" stroke-width="3.75" stroke-opacity="0.5"/>
<line x1="1345.4" y1="451.6" x2="1405.5" y2="451.6" stroke="#ff0000" stroke-width="3.75" stroke-opacity="0.5"/>
<line x1="1375.5" y1="441" x2="1375.5" y2="463" stroke="#ff0000" stroke-width="3.75" stroke-opacity="0.5"/>
<line x1="1352.2" y1="455.9" x2="1412.8" y2="455.9" stroke="#ff0000" stroke-width="3.75" stroke-opacity="0.5"/>
<line x1="1383" y1="450" x2="1383" y2="462" stroke="#ff0000" stroke-width="3.75" stroke-opacity="0.5"/>
<line x1="1370.8" y1="430" x2="1431.8" y2="430" stroke="#ff0000" stroke-width="3.75" stroke-opacity="0.5"/>
<line x1="1401.3" y1="369.5" x2="1401.3" y2="490" stroke="#ff0000" stroke-width="3.75" stroke-opacity="0.5"/>
<line x1="1512" y1="520.8" x2="1523" y2="520.8" stroke="#ff0000" stroke-width="3.75" stroke-opacity="0.5"/>
<line x1="1517.8" y1="507.7" x2="1517.8" y2="534.2" stroke="#ff0000" stroke-width="3.75" stroke-opacity="0.5"/>
<line x1="1350.5" y1="552" x2="1411" y2="552" stroke="#ff0000" stroke-width="3.75" stroke-opacity="0.5"/>
<line x1="1381" y1="530" x2="1381" y2="589" stroke="#ff0000" stroke-width="3.75" stroke-opacity="0.5"/>
<line x1="1378" y1="553" x2="1394" y2="553" stroke="#ff0000" stroke-width="3.75" stroke-opacity="0.5"/>
<line x1="1386.2" y1="538.6" x2="1386.2" y2="567.6" stroke="#ff0000" stroke-width="3.75" stroke-opacity="0.5"/>
<line x1="1420" y1="584.6" x2="1465" y2="584.6" stroke="#ff0000" stroke-width="3.75" stroke-opacity="0.5"/>
<line x1="1442.6" y1="556.1" x2="1442.6" y2="593.5" stroke="#ff0000" stroke-width="3.75" stroke-opacity="0.5"/>
<line x1="1425" y1="590.6" x2="1470" y2="590.6" stroke="#ff0000" stroke-width="3.75" stroke-opacity="0.5"/>
<line x1="1443" y1="584" x2="1443" y2="597" stroke="#ff0000" stroke-width="3.75" stroke-opacity="0.5"/>
<line x1="1364.3" y1="597" x2="1423" y2="597" stroke="#ff0000" stroke-width="3.75" stroke-opacity="0.5"/>
<line x1="1393.8" y1="560" x2="1393.8" y2="634" stroke="#ff0000" stroke-width="3.75" stroke-opacity="0.5"/>
<line x1="1310" y1="627" x2="1370" y2="627" stroke="#ff0000" stroke-width="3.75" stroke-opacity="0.5"/>
<line x1="1339.8" y1="608.6" x2="1339.8" y2="645.4" stroke="#ff0000" stroke-width="3.75" stroke-opacity="0.5"/>
<line x1="1327" y1="632" x2="1391" y2="632" stroke="#ff0000" stroke-width="3.75" stroke-opacity="0.5"/>
<line x1="1360.5" y1="564.7" x2="1360.5" y2="696" stroke="#ff0000" stroke-width="3.75" stroke-opacity="0.5"/>
<line x1="1384.1" y1="642" x2="1445.3" y2="642" stroke="#ff0000" stroke-width="3.75" stroke-opacity="0.5"/>
<line x1="1415" y1="625" x2="1415" y2="658" stroke="#ff0000" stroke-width="3.75" stroke-opacity="0.5"/>
<line x1="1388.1" y1="586.6" x2="1451" y2="586.6" stroke="#ff0000" stroke-width="3.75" stroke-opacity="0.5"/>
<line x1="1417.6" y1="475.3" x2="1417.6" y2="696.5" stroke="#ff0000" stroke-width="3.75" stroke-opacity="0.5"/>
<line x1="1459" y1="671" x2="1510.5" y2="671" stroke="#ff0000" stroke-width="3.75" stroke-opacity="0.5"/>
<line x1="1480.6" y1="616.2" x2="1480.6" y2="721.9" stroke="#ff0000" stroke-width="3.75" stroke-opacity="0.5"/>
<line x1="1476.2" y1="635.2" x2="1536.2" y2="635.2" stroke="#ff0000" stroke-width="3.75" stroke-opacity="0.5"/>
<line x1="1506.3" y1="614.3" x2="1506.3" y2="656.2" stroke="#ff0000" stroke-width="3.75" stroke-opacity="0.5"/>
<line x1="1502.3" y1="561" x2="1562.6" y2="561" stroke="#ff0000" stroke-width="3.75" stroke-opacity="0.5"/>
<line x1="1532.5" y1="463.3" x2="1532.5" y2="658" stroke="#ff0000" stroke-width="3.75" stroke-opacity="0.5"/>
<line x1="1499.2" y1="570.2" x2="1559.5" y2="570.2" stroke="#ff0000" stroke-width="3.75" stroke-opacity="0.5"/>
<line x1="1529.4" y1="526.8" x2="1529.4" y2="614.6" stroke="#ff0000" stroke-width="3.75" stroke-opacity="0.5"/>
<line x1="1392" y1="521.6" x2="1452.9" y2="521.6" stroke="#000000" stroke-width="3.75" stroke-opacity="0.5"/>
<line x1="1422.4" y1="508.5" x2="1422.4" y2="535" stroke="#000000" stroke-width="3.75" stroke-opacity="0.5"/>
<line x1="1269.5" y1="573.3" x2="1333.9" y2="573.3" stroke="#000000" stroke-width="3.75" stroke-opacity="0.5"/>
<line x1="1301.5" y1="559.2" x2="1301.5" y2="588.1" stroke="#000000" stroke-width="3.75" stroke-opacity="0.5"/>
<line x1="1366" y1="616.5" x2="1425" y2="616.5" stroke="#000000" stroke-width="3.75" stroke-opacity="0.5"/>
<line x1="1395" y1="581" x2="1395" y2="649" stroke="#000000" stroke-width="3.75" stroke-opacity="0.5"/>
<line x1="1323" y1="624.1" x2="1381" y2="624.1" stroke="#000000" stroke-width="3.75" stroke-opacity="0.5"/>
<line x1="1352.2" y1="593.5" x2="1352.2" y2="655.6" stroke="#000000" stroke-width="3.75" stroke-opacity="0.5"/>
<line x1="1208.6" y1="619.5" x2="1270" y2="619.5" stroke="#000000" stroke-width="3.75" stroke-opacity="0.5"/>
<line x1="1239.5" y1="577" x2="1239.5" y2="660" stroke="#000000" stroke-width="3.75" stroke-opacity="0.5"/>
<line x1="1223.8" y1="615.7" x2="1288.5" y2="615.7" stroke="#000000" stroke-width="3.75" stroke-opacity="0.5"/>
<line x1="1256.2" y1="605" x2="1256.2" y2="626" stroke="#000000" stroke-width="3.75" stroke-opacity="0.5"/>
<line x1="1288" y1="627" x2="1346" y2="627" stroke="#000000" stroke-width="3.75" stroke-opacity="0.5"/>
<line x1="1317.2" y1="618" x2="1317.2" y2="640" stroke="#000000" stroke-width="3.75" stroke-opacity="0.5"/>
<line x1="1244.3" y1="639.5" x2="1325" y2="639.5" stroke="#000000" stroke-width="3.75" stroke-opacity="0.5"/>
<line x1="1285" y1="609.4" x2="1285" y2="672.4" stroke="#000000" stroke-width="3.75" stroke-opacity="0.5"/>
<line x1="1243" y1="647.7" x2="1304" y2="647.7" stroke="#000000" stroke-width="3.75" stroke-opacity="0.5"/>
<line x1="1273.5" y1="601.7" x2="1273.5" y2="694.5" stroke="#000000" stroke-width="3.75" stroke-opacity="0.5"/>
<line x1="1261.5" y1="672.8" x2="1326.3" y2="672.8" stroke="#000000" stroke-width="3.75" stroke-opacity="0.5"/>
<line x1="1296.9" y1="660" x2="1296.9" y2="690" stroke="#000000" stroke-width="3.75" stroke-opacity="0.5"/>
<line x1="1268" y1="672.8" x2="1326" y2="672.8" stroke="#000000" stroke-width="3.75" stroke-opacity="0.5"/>
<line x1="1296.9" y1="664" x2="1296.9" y2="686" stroke="#000000" stroke-width="3.75" stroke-opacity="0.5"/>
<line x1="1257" y1="689.9" x2="1318" y2="689.9" stroke="#000000" stroke-width="3.75" stroke-opacity="0.5"/>
<line x1="1287.9" y1="669" x2="1287.9" y2="709.3" stroke="#000000" stroke-width="3.75" stroke-opacity="0.5"/>
<line x1="1282" y1="655" x2="1341" y2="655" stroke="#000000" stroke-width="3.75" stroke-opacity="0.5"/>
<line x1="1311.5" y1="645" x2="1311.5" y2="669" stroke="#000000" stroke-width="3.75" stroke-opacity="0.5"/>
<line x1="1203.3" y1="669" x2="1263.8" y2="669" stroke="#000000" stroke-width="3.75" stroke-opacity="0.5"/>
<line x1="1234.3" y1="651" x2="1234.3" y2="687" stroke="#000000" stroke-width="3.75" stroke-opacity="0.5"/>
<line x1="1224" y1="660.5" x2="1284" y2="660.5" stroke="#000000" stroke-width="3.75" stroke-opacity="0.5"/>
<line x1="1253.8" y1="648" x2="1253.8" y2="673" stroke="#000000" stroke-width="3.75" stroke-opacity="0.5"/>
<line x1="1311" y1="661.2" x2="1370" y2="661.2" stroke="#000000" stroke-width="3.75" stroke-opacity="0.5"/>
<line x1="1340.6" y1="645.4" x2="1340.6" y2="676.9" stroke="#000000" stroke-width="3.75" stroke-opacity="0.5"/>
<line x1="1204.9" y1="689.7" x2="1265" y2="689.7" stroke="#000000" stroke-width="3.75" stroke-opacity="0.5"/>
<line x1="1234.9" y1="630" x2="1234.9" y2="749.9" stroke="#000000" stroke-width="3.75" stroke-opacity="0.5"/>
<line x1="1305" y1="688.1" x2="1364" y2="688.1" stroke="#000000" stroke-width="3.75" stroke-opacity="0.5"/>
<line x1="1334.6" y1="651.5" x2="1334.6" y2="726.6" stroke="#000000" stroke-width="3.75" stroke-opacity="0.5"/>
<line x1="1344" y1="647.7" x2="1403" y2="647.7" stroke="#000000" stroke-width="3.75" stroke-opacity="0.5"/>
<line x1="1373.3" y1="638.6" x2="1373.3" y2="663.7" stroke="#000000" stroke-width="3.75" stroke-opacity="0.5"/>
<line x1="1415.6" y1="653.2" x2="1475.2" y2="653.2" stroke="#000000" stroke-width="3.75" stroke-opacity="0.5"/>
<line x1="1445.5" y1="619" x2="1445.5" y2="686.7" stroke="#000000" stroke-width="3.75" stroke-opacity="0.5"/>
<line x1="1376" y1="686.3" x2="1435" y2="686.3" stroke="#000000" stroke-width="3.75" stroke-opacity="0.5"/>
<line x1="1405.7" y1="652.2" x2="1405.7" y2="720.5" stroke="#000000" stroke-width="3.75" stroke-opacity="0.5"/>
<line x1="1382.3" y1="672.8" x2="1477" y2="672.8" stroke="#000000" stroke-width="3.75" stroke-opacity="0.5"/>
<line x1="1430" y1="595.4" x2="1430" y2="751.9" stroke="#000000" stroke-width="3.75" stroke-opacity="0.5"/>
<line x1="1348.1" y1="698.9" x2="1407.5" y2="698.9" stroke="#000000" stroke-width="3.75" stroke-opacity="0.5"/>
<line x1="1377.8" y1="615" x2="1377.8" y2="782.7" stroke="#000000" stroke-width="3.75" stroke-opacity="0.5"/>
<line x1="1412" y1="607.3" x2="1470" y2="607.3" stroke="#000000" stroke-width="3.75" stroke-opacity="0.5"/>
<line x1="1441.1" y1="570.1" x2="1441.1" y2="640.3" stroke="#000000" stroke-width="3.75" stroke-opacity="0.5"/>
<line x1="1427" y1="672.6" x2="1485" y2="672.6" stroke="#000000" stroke-width="3.75" stroke-opacity="0.5"/>
<line x1="1456.2" y1="588" x2="1456.2" y2="757.4" stroke="#000000" stroke-width="3.75" stroke-opacity="0.5"/>
<line x1="1468.6" y1="660" x2="1497.1" y2="660" stroke="#000000" stroke-width="3.75" stroke-opacity="0.5"/>
<line x1="1482.9" y1="641" x2="1482.9" y2="679" stroke="#000000" stroke-width="3.75" stroke-opacity="0.5"/>
<line x1="1575.6" y1="628.6" x2="1601" y2="628.6" stroke="#000000" stroke-width="3.75" stroke-opacity="0.5"/>
<line x1="1587.6" y1="621" x2="1587.6" y2="636" stroke="#000000" stroke-width="3.75" stroke-opacity="0.5"/>
<line x1="1542.5" y1="578" x2="1619.2" y2="578" stroke="#000000" stroke-width="3.75" stroke-opacity="0.5"/>
<line x1="1581.1" y1="536.3" x2="1581.1" y2="613.5" stroke="#000000" stroke-width="3.75" stroke-opacity="0.5"/>
<line x1="1550.3" y1="228.5" x2="1612.5" y2="228.5" stroke="#0000ff" stroke-width="3.75" stroke-opacity="0.5"/>
<line x1="1581.2" y1="207.9" x2="1581.2" y2="248.6" stroke="#0000ff" stroke-width="3.75" stroke-opacity="0.5"/>
<line x1="1699.4" y1="379.1" x2="1759.4" y2="379.1" stroke="#0000ff" stroke-width="3.75" stroke-opacity="0.5"/>
<line x1="1729.6" y1="361" x2="1729.6" y2="397" stroke="#0000ff" stroke-width="3.75" stroke-opacity="0.5"/>
<line x1="1829.2" y1="444.7" x2="1889.8" y2="444.7" stroke="#0000ff" stroke-width="3.75" stroke-opacity="0.5"/>
<line x1="1859.3" y1="415" x2="1859.3" y2="472.7" stroke="#0000ff" stroke-width="3.75" stroke-opacity="0.5"/>
<line x1="1755.9" y1="488.1" x2="1818" y2="488.1" stroke="#0000ff" stroke-width="3.75" stroke-opacity="0.5"/>
<line x1="1787" y1="465.7" x2="1787" y2="510.5" stroke="#0000ff" stroke-width="3.75" stroke-opacity="0.5"/>
<line x1="1791.3" y1="515.2" x2="1851.8" y2="515.2" stroke="#0000ff" stroke-width="3.75" stroke-opacity="0.5"/>
<line x1="1821.6" y1="476.2" x2="1821.6" y2="554.6" stroke="#0000ff" stroke-width="3.75" stroke-opacity="0.5"/>
<line x1="1842.3" y1="544.6" x2="1885.7" y2="544.6" stroke="#0000ff" stroke-width="3.75" stroke-opacity="0.5"/>
<line x1="1863.7" y1="526.3" x2="1863.7" y2="563.5" stroke="#0000ff" stroke-width="3.75" stroke-opacity="0.5"/>
<line x1="1484.8" y1="480.8" x2="1544.7" y2="480.8" stroke="#0000ff" stroke-width="3.75" stroke-opacity="0.5"/>
<line x1="1514.6" y1="452.1" x2="1514.6" y2="509.8" stroke="#0000ff" stroke-width="3.75" stroke-opacity="0.5"/>
<line x1="1580.6" y1="480.8" x2="1597.6" y2="480.8" stroke="#0000ff" stroke-width="3.75" stroke-opacity="0.5"/>
<line x1="1588.7" y1="465.4" x2="1588.7" y2="496.7" stroke="#0000ff" stroke-width="3.75" stroke-opacity="0.5"/>
<line x1="1366" y1="526.1" x2="1433.4" y2="526.1" stroke="#0000ff" stroke-width="3.75" stroke-opacity="0.5"/>
<line x1="1399.7" y1="375.9" x2="1399.7" y2="676" stroke="#0000ff" stroke-width="3.75" stroke-opacity="0.5"/>
<line x1="1492.8" y1="572.3" x2="1553.1" y2="572.3" stroke="#0000ff" stroke-width="3.75" stroke-opacity="0.5"/>
<line x1="1523.5" y1="554.4" x2="1523.5" y2="590.3" stroke="#0000ff" stroke-width="3.75" stroke-opacity="0.5"/>
<line x1="1455" y1="603.3" x2="1514.3" y2="603.3" stroke="#0000ff" stroke-width="3.75" stroke-opacity="0.5"/>
<line x1="1483" y1="590" x2="1483" y2="615" stroke="#0000ff" stroke-width="3.75" stroke-opacity="0.5"/>
<line x1="1675.1" y1="649.8" x2="1737.1" y2="649.8" stroke="#0000ff" stroke-width="3.75" stroke-opacity="0.5"/>
<line x1="1705.8" y1="645" x2="1705.8" y2="655" stroke="#0000ff" stroke-width="3.75" stroke-opacity="0.5"/>
<line x1="1440" y1="602.4" x2="1471" y2="602.4" stroke="#0000ff" stroke-width="3.75" stroke-opacity="0.5"/>
<line x1="1455.6" y1="586.9" x2="1455.6" y2="616.5" stroke="#0000ff" stroke-width="3.75" stroke-opacity="0.5"/>
<line x1="1498.1" y1="557.8" x2="1558.4" y2="557.8" stroke="#0000ff" stroke-width="3.75" stroke-opacity="0.5"/>
<line x1="1527.7" y1="533.1" x2="1527.7" y2="584.3" stroke="#0000ff" stroke-width="3.75" stroke-opacity="0.5"/>
<line x1="1544.7" y1="542.6" x2="1606" y2="542.6" stroke="#0000ff" stroke-width="3.75" stroke-opacity="0.5"/>
<line x1="1575.3" y1="498.2" x2="1575.3" y2="586" stroke="#0000ff" stroke-width="3.75" stroke-opacity="0.5"/>
<line x1="1635.6" y1="523.3" x2="1696.4" y2="523.3" stroke="#0000ff" stroke-width="3.75" stroke-opacity="0.5"/>
<line x1="1666" y1="510.2" x2="1666" y2="536" stroke="#0000ff" stroke-width="3.75" stroke-opacity="0.5"/>
<line x1="1653.7" y1="539.1" x2="1714.7" y2="539.1" stroke="#0000ff" stroke-width="3.75" stroke-opacity="0.5"/>
<line x1="1684.1" y1="513.8" x2="1684.1" y2="564.6" stroke="#0000ff" stroke-width="3.75" stroke-opacity="0.5"/>
<line x1="1751.3" y1="536.4" x2="1811.6" y2="536.4" stroke="#0000ff" stroke-width="3.75" stroke-opacity="0.5"/>
<line x1="1781.6" y1="523.5" x2="1781.6" y2="549.6" stroke="#0000ff" stroke-width="3.75" stroke-opacity="0.5"/>
<line x1="1603.2" y1="552.7" x2="1663.5" y2="552.7" stroke="#0000ff" stroke-width="3.75" stroke-opacity="0.5"/>
<line x1="1633.4" y1="537" x2="1633.4" y2="567" stroke="#0000ff" stroke-width="3.75" stroke-opacity="0.5"/>
<line x1="1603.2" y1="568.1" x2="1663.5" y2="568.1" stroke="#0000ff" stroke-width="3.75" stroke-opacity="0.5"/>
<line x1="1633.4" y1="536.6" x2="1633.4" y2="600.2" stroke="#0000ff" stroke-width="3.75" stroke-opacity="0.5"/>
<line x1="1558.1" y1="621" x2="1617.9" y2="621" stroke="#0000ff" stroke-width="3.75" stroke-opacity="0.5"/>
<line x1="1587.8" y1="617" x2="1587.8" y2="625" stroke="#0000ff" stroke-width="3.75" stroke-opacity="0.5"/>
<line x1="1744.3" y1="470" x2="1809.8" y2="470" stroke="#0000ff" stroke-width="3.75" stroke-opacity="0.5"/>
<line x1="1777.1" y1="462" x2="1777.1" y2="477.6" stroke="#0000ff" stroke-width="3.75" stroke-opacity="0.5"/>
<line x1="1166.2" y1="609.9" x2="1884.5" y2="394.2" stroke="#808080" stroke-width="3.75" stroke-dasharray="13.79 5.955"/>
<line x1="1166.2" y1="756.5" x2="1884.5" y2="540.8" stroke="#808080" stroke-width="3.75" stroke-dasharray="13.79 5.955"/>
<line x1="1166.2" y1="683.2" x2="1884.5" y2="467.5" stroke="#000" stroke-width="3.75" stroke-linecap="square"/>
<path d="M1200,528.8 L1192.87,533.98 L1195.59,542.37 L1204.41,542.37 L1207.13,533.98 Z" fill="#008000" stroke="#008000" stroke-width="2.5" opacity="0.5"/>
<path d="M1173,427.2 L1165.87,432.38 L1168.59,440.77 L1177.41,440.77 L1180.13,432.38 Z" fill="#008000" stroke="#008000" stroke-width="2.5" opacity="0.5"/>
<path d="M1286,622 L1278.87,627.18 L1281.59,635.57 L1290.41,635.57 L1293.13,627.18 Z" fill="#008000" stroke="#008000" stroke-width="2.5" opacity="0.5"/>
<path d="M1252.9,649 L1245.77,654.18 L1248.49,662.57 L1257.31,662.57 L1260.03,654.18 Z" fill="#008000" stroke="#008000" stroke-width="2.5" opacity="0.5"/>
<path d="M1214,663 L1206.87,668.18 L1209.59,676.57 L1218.41,676.57 L1221.13,668.18 Z" fill="#008000" stroke="#008000" stroke-width="2.5" opacity="0.5"/>
<path d="M1296,673.5 L1288.87,678.68 L1291.59,687.07 L1300.41,687.07 L1303.13,678.68 Z" fill="#008000" stroke="#008000" stroke-width="2.5" opacity="0.5"/>
<path d="M1274.3,699.1 L1267.17,704.28 L1269.89,712.67 L1278.71,712.67 L1281.43,704.28 Z" fill="#008000" stroke="#008000" stroke-width="2.5" opacity="0.5"/>
<path d="M1194.9,720.6 L1187.77,725.78 L1190.49,734.17 L1199.31,734.17 L1202.03,725.78 Z" fill="#008000" stroke="#008000" stroke-width="2.5" opacity="0.5"/>
<path d="M1263.5,720.6 L1256.37,725.78 L1259.09,734.17 L1267.91,734.17 L1270.63,725.78 Z" fill="#008000" stroke="#008000" stroke-width="2.5" opacity="0.5"/>
<path d="M1294.4,720.6 L1287.27,725.78 L1289.99,734.17 L1298.81,734.17 L1301.53,725.78 Z" fill="#008000" stroke="#008000" stroke-width="2.5" opacity="0.5"/>
<path d="M1241,747.3 L1233.87,752.48 L1236.59,760.87 L1245.41,760.87 L1248.13,752.48 Z" fill="#008000" stroke="#008000" stroke-width="2.5" opacity="0.5"/>
<path d="M1243.8,603 L1236.67,608.18 L1239.39,616.57 L1248.21,616.57 L1250.93,608.18 Z" fill="#008000" stroke="#008000" stroke-width="2.5" opacity="0.5"/>
<path d="M1379.8,610.8 L1372.67,615.98 L1375.39,624.37 L1384.21,624.37 L1386.93,615.98 Z" fill="#008000" stroke="#008000" stroke-width="2.5" opacity="0.5"/>
<path d="M1306,622.2 L1298.87,627.38 L1301.59,635.77 L1310.41,635.77 L1313.13,627.38 Z" fill="#008000" stroke="#008000" stroke-width="2.5" opacity="0.5"/>
<path d="M1307.1,675.1 L1299.97,680.28 L1302.69,688.67 L1311.51,688.67 L1314.23,680.28 Z" fill="#008000" stroke="#008000" stroke-width="2.5" opacity="0.5"/>
<path d="M1212,127.3 L1204.5,142.3 L1219.5,142.3 Z" fill="#ff0000" stroke="#ff0000" stroke-width="2.5" opacity="0.5"/>
<path d="M1378.1,303.2 L1370.6,318.2 L1385.6,318.2 Z" fill="#ff0000" stroke="#ff0000" stroke-width="2.5" opacity="0.5"/>
<path d="M1349,522.9 L1341.5,537.9 L1356.5,537.9 Z" fill="#ff0000" stroke="#ff0000" stroke-width="2.5" opacity="0.5"/>
<path d="M1368.8,454 L1361.3,469 L1376.3,469 Z" fill="#ff0000" stroke="#ff0000" stroke-width="2.5" opacity="0.5"/>
<path d="M1375.5,444.1 L1368,459.1 L1383,459.1 Z" fill="#ff0000" stroke="#ff0000" stroke-width="2.5" opacity="0.5"/>
<path d="M1383,448.4 L1375.5,463.4 L1390.5,463.4 Z" fill="#ff0000" stroke="#ff0000" stroke-width="2.5" opacity="0.5"/>
<path d="M1401.3,422.5 L1393.8,437.5 L1408.8,437.5 Z" fill="#ff0000" stroke="#ff0000" stroke-width="2.5" opacity="0.5"/>
<path d="M1517.8,513.3 L1510.3,528.3 L1525.3,528.3 Z" fill="#ff0000" stroke="#ff0000" stroke-width="2.5" opacity="0.5"/>
<path d="M1381,544.5 L1373.5,559.5 L1388.5,559.5 Z" fill="#ff0000" stroke="#ff0000" stroke-width="2.5" opacity="0.5"/>
<path d="M1386.2,545.5 L1378.7,560.5 L1393.7,560.5 Z" fill="#ff0000" stroke="#ff0000" stroke-width="2.5" opacity="0.5"/>
<path d="M1442.6,577.1 L1435.1,592.1 L1450.1,592.1 Z" fill="#ff0000" stroke="#ff0000" stroke-width="2.5" opacity="0.5"/>
<path d="M1443,583.1 L1435.5,598.1 L1450.5,598.1 Z" fill="#ff0000" stroke="#ff0000" stroke-width="2.5" opacity="0.5"/>
<path d="M1393.8,589.5 L1386.3,604.5 L1401.3,604.5 Z" fill="#ff0000" stroke="#ff0000" stroke-width="2.5" opacity="0.5"/>
<path d="M1339.8,619.5 L1332.3,634.5 L1347.3,634.5 Z" fill="#ff0000" stroke="#ff0000" stroke-width="2.5" opacity="0.5"/>
<path d="M1360.5,624.5 L1353,639.5 L1368,639.5 Z" fill="#ff0000" stroke="#ff0000" stroke-width="2.5" opacity="0.5"/>
<path d="M1415,634.5 L1407.5,649.5 L1422.5,649.5 Z" fill="#ff0000" stroke="#ff0000" stroke-width="2.5" opacity="0.5"/>
<path d="M1417.6,579.1 L1410.1,594.1 L1425.1,594.1 Z" fill="#ff0000" stroke="#ff0000" stroke-width="2.5" opacity="0.5"/>
<path d="M1480.6,663.5 L1473.1,678.5 L1488.1,678.5 Z" fill="#ff0000" stroke="#ff0000" stroke-width="2.5" opacity="0.5"/>
<path d="M1506.3,627.7 L1498.8,642.7 L1513.8,642.7 Z" fill="#ff0000" stroke="#ff0000" stroke-width="2.5" opacity="0.5"/>
<path d="M1532.5,553.5 L1525,568.5 L1540,568.5 Z" fill="#ff0000" stroke="#ff0000" stroke-width="2.5" opacity="0.5"/>
<path d="M1529.4,562.7 L1521.9,577.7 L1536.9,577.7 Z" fill="#ff0000" stroke="#ff0000" stroke-width="2.5" opacity="0.5"/>
<circle cx="1422.4" cy="521.6" r="7.5" fill="#000000" stroke="#000000" stroke-width="2.5" opacity="0.5"/>
<circle cx="1301.5" cy="573.3" r="7.5" fill="#000000" stroke="#000000" stroke-width="2.5" opacity="0.5"/>
<circle cx="1395" cy="616.5" r="7.5" fill="#000000" stroke="#000000" stroke-width="2.5" opacity="0.5"/>
<circle cx="1352.2" cy="624.1" r="7.5" fill="#000000" stroke="#000000" stroke-width="2.5" opacity="0.5"/>
<circle cx="1239.5" cy="619.5" r="7.5" fill="#000000" stroke="#000000" stroke-width="2.5" opacity="0.5"/>
<circle cx="1256.2" cy="615.7" r="7.5" fill="#000000" stroke="#000000" stroke-width="2.5" opacity="0.5"/>
<circle cx="1317.2" cy="627" r="7.5" fill="#000000" stroke="#000000" stroke-width="2.5" opacity="0.5"/>
<circle cx="1285" cy="639.5" r="7.5" fill="#000000" stroke="#000000" stroke-width="2.5" opacity="0.5"/>
<circle cx="1273.5" cy="647.7" r="7.5" fill="#000000" stroke="#000000" stroke-width="2.5" opacity="0.5"/>
<circle cx="1296.9" cy="672.8" r="7.5" fill="#000000" stroke="#000000" stroke-width="2.5" opacity="0.5"/>
<circle cx="1296.9" cy="672.8" r="7.5" fill="#000000" stroke="#000000" stroke-width="2.5" opacity="0.5"/>
<circle cx="1287.9" cy="689.9" r="7.5" fill="#000000" stroke="#000000" stroke-width="2.5" opacity="0.5"/>
<circle cx="1311.5" cy="655" r="7.5" fill="#000000" stroke="#000000" stroke-width="2.5" opacity="0.5"/>
<circle cx="1234.3" cy="669" r="7.5" fill="#000000" stroke="#000000" stroke-width="2.5" opacity="0.5"/>
<circle cx="1253.8" cy="660.5" r="7.5" fill="#000000" stroke="#000000" stroke-width="2.5" opacity="0.5"/>
<circle cx="1340.6" cy="661.2" r="7.5" fill="#000000" stroke="#000000" stroke-width="2.5" opacity="0.5"/>
<circle cx="1234.9" cy="689.7" r="7.5" fill="#000000" stroke="#000000" stroke-width="2.5" opacity="0.5"/>
<circle cx="1334.6" cy="688.1" r="7.5" fill="#000000" stroke="#000000" stroke-width="2.5" opacity="0.5"/>
<circle cx="1373.3" cy="647.7" r="7.5" fill="#000000" stroke="#000000" stroke-width="2.5" opacity="0.5"/>
<circle cx="1445.5" cy="653.2" r="7.5" fill="#000000" stroke="#000000" stroke-width="2.5" opacity="0.5"/>
<circle cx="1405.7" cy="686.3" r="7.5" fill="#000000" stroke="#000000" stroke-width="2.5" opacity="0.5"/>
<circle cx="1430" cy="672.8" r="7.5" fill="#000000" stroke="#000000" stroke-width="2.5" opacity="0.5"/>
<circle cx="1377.8" cy="698.9" r="7.5" fill="#000000" stroke="#000000" stroke-width="2.5" opacity="0.5"/>
<circle cx="1441.1" cy="607.3" r="7.5" fill="#000000" stroke="#000000" stroke-width="2.5" opacity="0.5"/>
<circle cx="1456.2" cy="672.6" r="7.5" fill="#000000" stroke="#000000" stroke-width="2.5" opacity="0.5"/>
<circle cx="1482.9" cy="660" r="7.5" fill="#000000" stroke="#000000" stroke-width="2.5" opacity="0.5"/>
<circle cx="1587.6" cy="628.6" r="7.5" fill="#000000" stroke="#000000" stroke-width="2.5" opacity="0.5"/>
<circle cx="1581.1" cy="578" r="7.5" fill="#000000" stroke="#000000" stroke-width="2.5" opacity="0.5"/>
<rect x="1573.7" y="221" width="15" height="15" fill="#0000ff" stroke="#0000ff" stroke-width="2.5" stroke-linejoin="miter" opacity="0.5"/>
<rect x="1722.1" y="371.6" width="15" height="15" fill="#0000ff" stroke="#0000ff" stroke-width="2.5" stroke-linejoin="miter" opacity="0.5"/>
<rect x="1851.8" y="437.2" width="15" height="15" fill="#0000ff" stroke="#0000ff" stroke-width="2.5" stroke-linejoin="miter" opacity="0.5"/>
<rect x="1779.5" y="480.6" width="15" height="15" fill="#0000ff" stroke="#0000ff" stroke-width="2.5" stroke-linejoin="miter" opacity="0.5"/>
<rect x="1814.1" y="507.7" width="15" height="15" fill="#0000ff" stroke="#0000ff" stroke-width="2.5" stroke-linejoin="miter" opacity="0.5"/>
<rect x="1856.2" y="537.1" width="15" height="15" fill="#0000ff" stroke="#0000ff" stroke-width="2.5" stroke-linejoin="miter" opacity="0.5"/>
<rect x="1507.1" y="473.3" width="15" height="15" fill="#0000ff" stroke="#0000ff" stroke-width="2.5" stroke-linejoin="miter" opacity="0.5"/>
<rect x="1581.2" y="473.3" width="15" height="15" fill="#0000ff" stroke="#0000ff" stroke-width="2.5" stroke-linejoin="miter" opacity="0.5"/>
<rect x="1392.2" y="518.6" width="15" height="15" fill="#0000ff" stroke="#0000ff" stroke-width="2.5" stroke-linejoin="miter" opacity="0.5"/>
<rect x="1516" y="564.8" width="15" height="15" fill="#0000ff" stroke="#0000ff" stroke-width="2.5" stroke-linejoin="miter" opacity="0.5"/>
<rect x="1475.5" y="595.8" width="15" height="15" fill="#0000ff" stroke="#0000ff" stroke-width="2.5" stroke-linejoin="miter" opacity="0.5"/>
<rect x="1698.3" y="642.3" width="15" height="15" fill="#0000ff" stroke="#0000ff" stroke-width="2.5" stroke-linejoin="miter" opacity="0.5"/>
<rect x="1448.1" y="594.9" width="15" height="15" fill="#0000ff" stroke="#0000ff" stroke-width="2.5" stroke-linejoin="miter" opacity="0.5"/>
<rect x="1520.2" y="550.3" width="15" height="15" fill="#0000ff" stroke="#0000ff" stroke-width="2.5" stroke-linejoin="miter" opacity="0.5"/>
<rect x="1567.8" y="535.1" width="15" height="15" fill="#0000ff" stroke="#0000ff" stroke-width="2.5" stroke-linejoin="miter" opacity="0.5"/>
<rect x="1658.5" y="515.8" width="15" height="15" fill="#0000ff" stroke="#0000ff" stroke-width="2.5" stroke-linejoin="miter" opacity="0.5"/>
<rect x="1676.6" y="531.6" width="15" height="15" fill="#0000ff" stroke="#0000ff" stroke-width="2.5" stroke-linejoin="miter" opacity="0.5"/>
<rect x="1774.1" y="528.9" width="15" height="15" fill="#0000ff" stroke="#0000ff" stroke-width="2.5" stroke-linejoin="miter" opacity="0.5"/>
<rect x="1625.9" y="545.2" width="15" height="15" fill="#0000ff" stroke="#0000ff" stroke-width="2.5" stroke-linejoin="miter" opacity="0.5"/>
<rect x="1625.9" y="560.6" width="15" height="15" fill="#0000ff" stroke="#0000ff" stroke-width="2.5" stroke-linejoin="miter" opacity="0.5"/>
<rect x="1580.3" y="613.5" width="15" height="15" fill="#0000ff" stroke="#0000ff" stroke-width="2.5" stroke-linejoin="miter" opacity="0.5"/>
<rect x="1769.6" y="462.5" width="15" height="15" fill="#0000ff" stroke="#0000ff" stroke-width="2.5" stroke-linejoin="miter" opacity="0.5"/>
<text x="1166.3" y="116.2" class="an">2004dt</text>
<text x="1355.4" y="280.7" class="an">2006X</text>
<text x="1582.5" y="205.3" class="an">2011iv</text>
<text x="1733.5" y="711" class="st">R<tspan dy="-16" font-size="29.75px">2</tspan><tspan dy="16">=0.35</tspan></text>
<text x="1732.9" y="775.5" class="st"><tspan font-style="italic">r</tspan>=-0.59</text>
<line x1="1119.45" y1="776.5" x2="1128.2" y2="776.5" stroke="#000" stroke-width="2"/>
<text x="1110.7" y="790.5" text-anchor="end" class="tk">0</text>
<line x1="1119.45" y1="649.35" x2="1128.2" y2="649.35" stroke="#000" stroke-width="2"/>
<text x="1110.7" y="663.35" text-anchor="end" class="tk">1</text>
<line x1="1119.45" y1="522.2" x2="1128.2" y2="522.2" stroke="#000" stroke-width="2"/>
<text x="1110.7" y="536.2" text-anchor="end" class="tk">2</text>
<line x1="1119.45" y1="395.05" x2="1128.2" y2="395.05" stroke="#000" stroke-width="2"/>
<text x="1110.7" y="409.05" text-anchor="end" class="tk">3</text>
<line x1="1119.45" y1="267.9" x2="1128.2" y2="267.9" stroke="#000" stroke-width="2"/>
<text x="1110.7" y="281.9" text-anchor="end" class="tk">4</text>
<line x1="1119.45" y1="140.75" x2="1128.2" y2="140.75" stroke="#000" stroke-width="2"/>
<text x="1110.7" y="154.75" text-anchor="end" class="tk">5</text>
<line x1="1119.45" y1="13.6" x2="1128.2" y2="13.6" stroke="#000" stroke-width="2"/>
<text x="1110.7" y="27.6" text-anchor="end" class="tk">6</text>
<line x1="1203.8" y1="840" x2="1203.8" y2="848.75" stroke="#000" stroke-width="2"/>
<text x="1203.8" y="886" text-anchor="middle" class="tk">1.2</text>
<line x1="1355" y1="840" x2="1355" y2="848.75" stroke="#000" stroke-width="2"/>
<text x="1355" y="886" text-anchor="middle" class="tk">1.0</text>
<line x1="1506.2" y1="840" x2="1506.2" y2="848.75" stroke="#000" stroke-width="2"/>
<text x="1506.2" y="886" text-anchor="middle" class="tk">0.8</text>
<line x1="1657.4" y1="840" x2="1657.4" y2="848.75" stroke="#000" stroke-width="2"/>
<text x="1657.4" y="886" text-anchor="middle" class="tk">0.6</text>
<line x1="1808.6" y1="840" x2="1808.6" y2="848.75" stroke="#000" stroke-width="2"/>
<text x="1808.6" y="886" text-anchor="middle" class="tk">0.4</text>
<line x1="1959.8" y1="840" x2="1959.8" y2="848.75" stroke="#000" stroke-width="2"/>
<text x="1959.8" y="886" text-anchor="middle" class="tk">0.2</text>
<rect x="1128.2" y="13.5" width="831.6" height="826.5" fill="none" stroke="#000" stroke-width="2"/>
<rect x="1753.2" y="32.3" width="188.4" height="229.2" rx="7" ry="7" fill="#fff" fill-opacity="0.8" stroke="#cccccc" stroke-opacity="0.8" stroke-width="2.5"/>
<line x1="1786.8" y1="62.1" x2="1823.8" y2="62.1" stroke="#008000" stroke-width="3.75" stroke-opacity="0.5"/><line x1="1805.3" y1="43.9" x2="1805.3" y2="80.3" stroke="#008000" stroke-width="3.75" stroke-opacity="0.5"/><path d="M1805.3,54.6 L1798.17,59.78 L1800.89,68.17 L1809.71,68.17 L1812.43,59.78 Z" fill="#008000" stroke="#008000" stroke-width="2.5" opacity="0.5"/>
<text x="1873" y="75.3" class="lg">SS</text>
<line x1="1786.8" y1="116.8" x2="1823.8" y2="116.8" stroke="#ff0000" stroke-width="3.75" stroke-opacity="0.5"/><line x1="1805.3" y1="98.6" x2="1805.3" y2="135" stroke="#ff0000" stroke-width="3.75" stroke-opacity="0.5"/><path d="M1805.3,109.3 L1797.8,124.3 L1812.8,124.3 Z" fill="#ff0000" stroke="#ff0000" stroke-width="2.5" opacity="0.5"/>
<text x="1873" y="130" class="lg">BL</text>
<line x1="1786.8" y1="171.5" x2="1823.8" y2="171.5" stroke="#000000" stroke-width="3.75" stroke-opacity="0.5"/><line x1="1805.3" y1="153.3" x2="1805.3" y2="189.7" stroke="#000000" stroke-width="3.75" stroke-opacity="0.5"/><circle cx="1805.3" cy="171.5" r="7.5" fill="#000000" stroke="#000000" stroke-width="2.5" opacity="0.5"/>
<text x="1873" y="184.7" class="lg">CN</text>
<line x1="1786.8" y1="226.2" x2="1823.8" y2="226.2" stroke="#0000ff" stroke-width="3.75" stroke-opacity="0.5"/><line x1="1805.3" y1="208" x2="1805.3" y2="244.4" stroke="#0000ff" stroke-width="3.75" stroke-opacity="0.5"/><rect x="1797.8" y="218.7" width="15" height="15" fill="#0000ff" stroke="#0000ff" stroke-width="2.5" stroke-linejoin="miter" opacity="0.5"/>
<text x="1873" y="239.4" class="lg">CL</text>
<text x="1512" y="934.5" class="lb">s<tspan dy="6.7" font-size="29.75px" font-style="italic">BV</tspan></text>
<text transform="translate(1067.2,428) rotate(-90)" text-anchor="middle" class="lb">Δv<tspan dy="6.7" font-size="29.75px">20</tspan><tspan dy="-6.7">(Si) [10</tspan><tspan dy="-16.5" font-size="29.75px">3</tspan><tspan dy="16.5"> km s</tspan><tspan dy="-16.5" font-size="29.75px">−1</tspan><tspan dy="16.5">]</tspan></text>
</g>
</svg></body></html>
